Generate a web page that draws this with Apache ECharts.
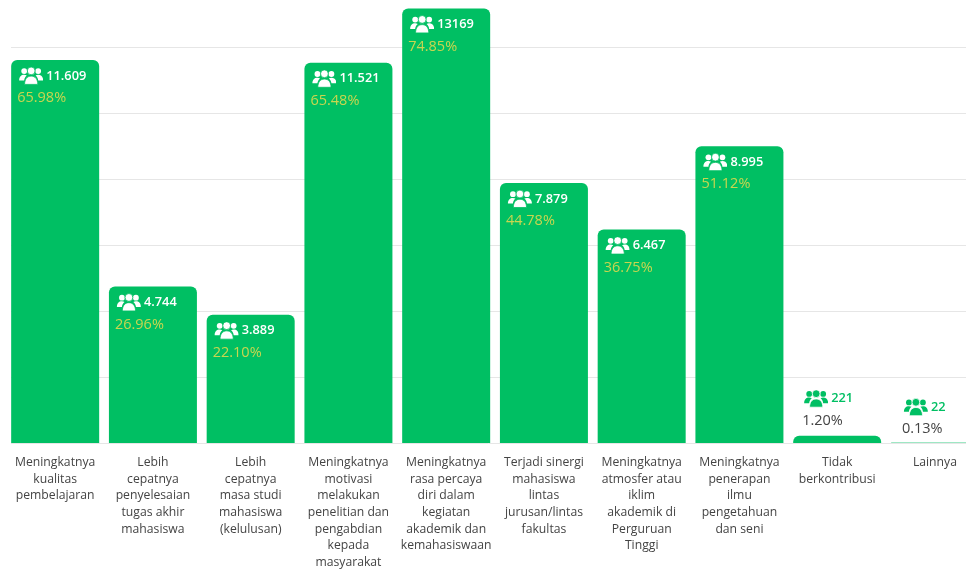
<!DOCTYPE html>
<html><head><meta charset="utf-8">
<style>html,body{margin:0;padding:0;background:#fff}#c{width:966px;height:570px}</style>
<script src="https://cdn.jsdelivr.net/npm/echarts@6/dist/echarts.min.js"></script>
</head><body><div id="c"></div>
<script>
const categories = [
 "Meningkatnya\nkualitas\npembelajaran",
 "Lebih\ncepatnya\npenyelesaian\ntugas akhir\nmahasiswa",
 "Lebih\ncepatnya\nmasa studi\nmahasiswa\n(kelulusan)",
 "Meningkatnya\nmotivasi\nmelakukan\npenelitian dan\npengabdian\nkepada\nmasyarakat",
 "Meningkatnya\nrasa percaya\ndiri dalam\nkegiatan\nakademik dan\nkemahasiswaan",
 "Terjadi sinergi\nmahasiswa\nlintas\njurusan/lintas\nfakultas",
 "Meningkatnya\natmosfer atau\niklim\nakademik di\nPerguruan\nTinggi",
 "Meningkatnya\npenerapan\nilmu\npengetahuan\ndan seni",
 "Tidak\nberkontribusi",
 "Lainnya"
];
const values = [11609, 4744, 3889, 11521, 13169, 7879, 6467, 8995, 221, 22];
const valueLabels = ["11.609","4.744","3.889","11.521","13169","7.879","6.467","8.995","221","22"];
const percentLabels = ["65.98%","26.96%","22.10%","65.48%","74.85%","44.78%","36.75%","51.12%","1.20%","0.13%"];

const FONT = '"Open Sans", sans-serif';
const GREEN = '#00bf63';
function people(color){
  const edge = color==='#fff' ? '#00bf63' : '#fff';
  const svg = `<svg xmlns="http://www.w3.org/2000/svg" width="26" height="18" viewBox="-2 0 26 18"><g fill="${color}"><circle cx="5" cy="4.2" r="2.9"/><circle cx="19" cy="4.2" r="2.9"/><path d="M0 13.5c0-3.6 2-5.6 5-5.6 1 0 1.9.2 2.6.7C6 10 5.2 11.5 5 13.5z"/><path d="M24 13.5c0-3.6-2-5.6-5-5.6-1 0-1.9.2-2.6.7 1.6 1.4 2.4 2.9 2.6 4.9z"/><circle cx="12" cy="4" r="3.9" stroke="${edge}" stroke-width=".8"/><path d="M5.4 17.5c0-5 2.4-8.3 6.6-8.3s6.6 3.3 6.6 8.3z" stroke="${edge}" stroke-width=".8"/></g></svg>`;
  return 'data:image/svg+xml;charset=utf-8,' + encodeURIComponent(svg);
}
const iconW = people('#fff'), iconG = people(GREEN);

const offsets = [[6,5],[6,5],[6,5],[6,5],[6,5],[6,5],[6,5],[6,5],[9,-48],[11,-46]];
const data = values.map((v,i)=>{
  const outside = i >= 8;
  return {
    value: v,
    itemStyle: i === 9 ? {color:'#7fdfb1'} : undefined,
    label: {
      show: true,
      position: offsets[i],
      align: 'left', verticalAlign: 'top',
      formatter: `{${outside?'ig':'iw'}|}{${outside?'vg':'vw'}|${valueLabels[i]}}\n{${outside?'pd':'py'}|${percentLabels[i]}}`,
      rich: {
        iw:{width:26,height:18,backgroundColor:{image:iconW},lineHeight:22},
        ig:{width:26,height:18,backgroundColor:{image:iconG},lineHeight:22},
        vw:{fontFamily:FONT,fontWeight:600,fontSize:12.8,color:'#fff',padding:[0,0,0,3],lineHeight:22},
        vg:{fontFamily:FONT,fontWeight:600,fontSize:12.8,color:GREEN,padding:[0,0,0,3],lineHeight:22},
        py:{fontFamily:FONT,fontSize:14.5,color:'#c9d64f',lineHeight:22},
        pd:{fontFamily:FONT,fontSize:14.5,color:'#444',lineHeight:22}
      }
    }
  };
});

const chart = echarts.init(document.getElementById('c'), null, {renderer:'canvas'});
chart.setOption({
  animation:false,
  backgroundColor:'#fff',
  grid:[
    {left:6.3,right:-17.8,top:-19,bottom:127,containLabel:false,outerBoundsMode:'none'},
    {left:11,right:0,top:-19,bottom:127,containLabel:false,outerBoundsMode:'none'}
  ],
  xAxis:[
    {type:'category',gridIndex:0,data:categories,
      axisLine:{show:false},axisTick:{show:false},
      axisLabel:{interval:0,margin:11,fontFamily:FONT,fontSize:12.2,lineHeight:16.7,color:'#444',align:'center',verticalAlign:'top',hideOverlap:false}},
    {type:'category',gridIndex:1,data:categories,show:false}
  ],
  yAxis:[
    {type:'value',gridIndex:0,min:0,max:14000,interval:2000,show:false,splitLine:{show:false}},
    {type:'value',gridIndex:1,min:0,max:14000,interval:2000,
      axisLine:{show:false},axisTick:{show:false},axisLabel:{show:false},
      splitLine:{show:true,lineStyle:{color:'#e6e6e6',width:1}}}
  ],
  series:[{
    type:'bar',xAxisIndex:0,yAxisIndex:0,data,barWidth:88,
    itemStyle:{color:GREEN,borderRadius:[6,6,0,0]},
    z:3
  }]
});
</script></body></html>
